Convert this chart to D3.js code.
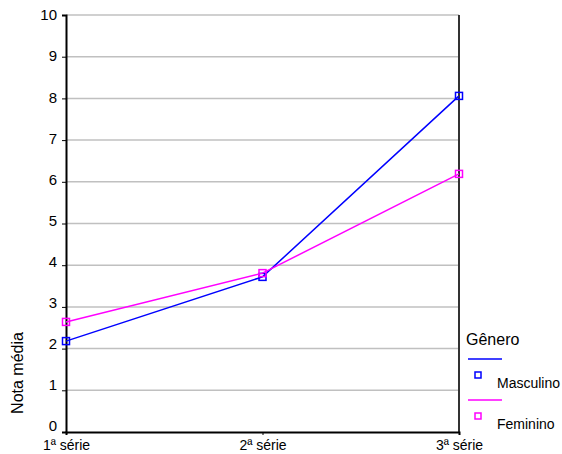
<!DOCTYPE html>
<html>
<head>
<meta charset="utf-8">
<script src="https://cdn.jsdelivr.net/npm/d3@7"></script>
<style>
  html, body { margin: 0; padding: 0; background: #fff; }
  svg { display: block; font-family: Arial, "Liberation Sans", sans-serif; }
</style>
</head>
<body>
<svg id="chart" width="562" height="454"></svg>
<script>
// Average grade by school year, split by gender
const categories = ["1ª série", "2ª série", "3ª série"];
const masculino = [2.18, 3.72, 8.06];
const feminino = [2.64, 3.81, 6.19];
const yTicks = [0, 1, 2, 3, 4, 5, 6, 7, 8, 9, 10];

const seriesList = [
  { name: "Masculino", values: masculino, color: "#0000ff" },
  { name: "Feminino", values: feminino, color: "#ff00ff" }
];

const FONT = "Arial, 'Liberation Sans', sans-serif";
const svg = d3.select("#chart");
const plot = { left: 66, right: 459, top: 15, bottom: 432 };

const x = d3.scalePoint().domain(categories).range([plot.left, plot.right]);
const y = d3.scaleLinear().domain([0, 10]).range([plot.bottom, plot.top]);

// horizontal gridlines
svg.append("g")
  .selectAll("line")
  .data(yTicks.filter(d => d > 0))
  .join("line")
  .attr("x1", plot.left).attr("x2", plot.right)
  .attr("y1", d => y(d)).attr("y2", d => y(d))
  .attr("stroke", "#c0c0c0").attr("stroke-width", 1.5);

// right border of the plot area
svg.append("line")
  .attr("x1", plot.right).attr("x2", plot.right)
  .attr("y1", plot.top).attr("y2", plot.bottom)
  .attr("stroke", "#333").attr("stroke-width", 2);

// y axis (labels near the bottom sit slightly above their ticks)
const yAxis = svg.append("g")
  .attr("transform", `translate(${plot.left},0)`)
  .call(d3.axisLeft(y).tickValues(yTicks).tickSize(4).tickPadding(5).tickFormat(d3.format("d")));
yAxis.select(".domain").attr("stroke", "#000").attr("stroke-width", 2);
yAxis.selectAll(".tick line").attr("stroke", "#000");
yAxis.selectAll("text")
  .attr("font-size", 15).attr("fill", "#000")
  .attr("font-family", FONT)
  .attr("y", d => -6 + 0.6 * d);

// x axis
const xAxis = svg.append("g")
  .attr("transform", `translate(0,${plot.bottom})`)
  .call(d3.axisBottom(x).tickSize(3).tickPadding(5));
xAxis.select(".domain").attr("stroke", "#000").attr("stroke-width", 2);
xAxis.selectAll(".tick line").attr("stroke", "#000");
xAxis.selectAll("text").attr("font-size", 14).attr("fill", "#000")
  .attr("font-family", FONT);

// y axis title
svg.append("text")
  .attr("transform", "translate(23,373) rotate(-90)")
  .attr("text-anchor", "middle")
  .attr("font-size", 16)
  .text("Nota média");

// lines and markers
const line = d3.line()
  .x((d, i) => x(categories[i]))
  .y(d => y(d));

seriesList.forEach(s => {
  svg.append("path")
    .datum(s.values)
    .attr("d", line)
    .attr("fill", "none")
    .attr("stroke", s.color)
    .attr("stroke-width", 1.5);
  svg.append("g")
    .selectAll("rect")
    .data(s.values)
    .join("rect")
    .attr("x", (d, i) => x(categories[i]) - 3.5)
    .attr("y", d => y(d) - 3.5)
    .attr("width", 7).attr("height", 7)
    .attr("fill", "none")
    .attr("stroke", s.color)
    .attr("stroke-width", 1.5);
});

// legend
const legend = svg.append("g");
legend.append("text")
  .attr("x", 466).attr("y", 345)
  .attr("font-size", 16)
  .text("Gênero");

seriesList.forEach((s, i) => {
  const oy = 359 + i * 41;
  legend.append("line")
    .attr("x1", 468).attr("x2", 502)
    .attr("y1", oy).attr("y2", oy)
    .attr("stroke", s.color).attr("stroke-width", 1.5);
  legend.append("rect")
    .attr("x", 478 - 3).attr("y", oy + 16 - 3)
    .attr("width", 6).attr("height", 6)
    .attr("fill", "none")
    .attr("stroke", s.color).attr("stroke-width", 1.5);
  legend.append("text")
    .attr("x", 497).attr("y", oy + 29)
    .attr("font-size", 14)
    .text(s.name);
});
</script>
</body>
</html>
